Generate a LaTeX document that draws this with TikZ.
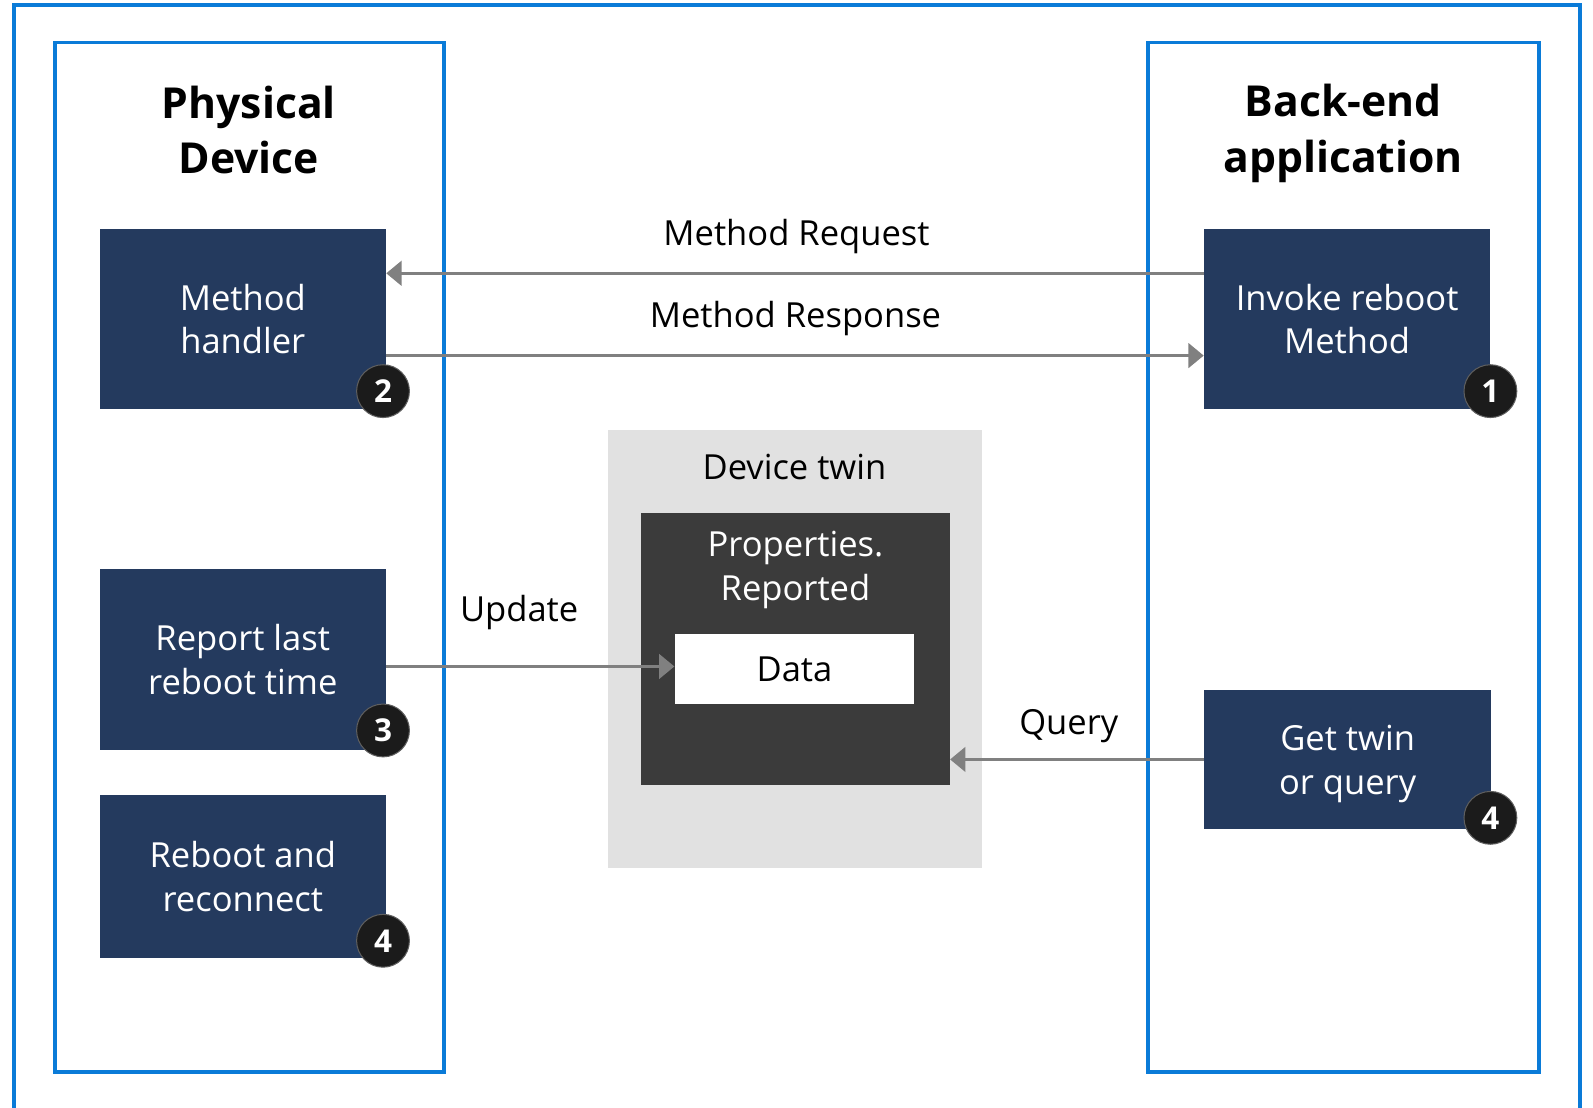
\documentclass[tikz,border=0pt]{standalone}
\usepackage{fontspec}
\setmainfont{Open Sans}
\usetikzlibrary{arrows.meta}

\definecolor{panelblue}{HTML}{0A7BD8}
\definecolor{stepnavy}{HTML}{243A5E}
\definecolor{arrowgray}{HTML}{808080}
\definecolor{twingray}{HTML}{E1E1E1}
\definecolor{propdark}{HTML}{3B3B3B}
\definecolor{badgeblack}{HTML}{1B1B1B}

\begin{document}
\begin{tikzpicture}[x=1pt,y=-1pt,
  panel/.style={draw=panelblue, line width=3.5pt, fill=white, inner sep=0pt},
  stepbox/.style={fill=stepnavy, text=white, inner sep=0pt, align=center,
    font=\fontsize{34}{43}\selectfont},
  title/.style={align=center, font=\fontsize{42}{55}\selectfont\bfseries},
  label/.style={font=\fontsize{34}{40}\selectfont, inner sep=0pt},
  badge/.style={circle, fill=badgeblack, draw=badgeblack!70, line width=1pt,
    minimum size=52pt, inner sep=0pt, text=white,
    font=\fontsize{31}{31}\selectfont\bfseries},
  flow/.style={draw=arrowgray, line width=3pt,
    -{Triangle[length=15pt, width=24pt]}}
]
\useasboundingbox (0,0) rectangle (1568,1090);
\begin{scope}
\clip (0,0) rectangle (1568,1090);
% outer frame, open at the bottom edge
\draw[draw=panelblue, line width=3.5pt] (14,1100) -- (14,5) -- (1555,5) -- (1555,1100);
\end{scope}

% the two side panels
\node[panel, minimum width=383pt, minimum height=1013pt] (devpanel) at (245.5,548.5) {};
\node[panel, minimum width=385pt, minimum height=1013pt] (apppanel) at (1322.5,548.5) {};

\node[title] (devtitle) at (245,128) {Physical\\Device};
\node[title] (apptitle) at (1322,131) {Back-end\\application};

% device-side steps
\node[stepbox, minimum width=282pt, minimum height=178pt] (handler) at (239,314) {Method\\handler};
\node[stepbox, minimum width=282pt, minimum height=178pt] (report) at (239,649) {Report last\\reboot time};
\node[stepbox, minimum width=282pt, minimum height=160pt] (reboot) at (239,863) {Reboot and\\reconnect};

% back-end steps
\node[stepbox, minimum width=282pt, minimum height=178pt] (invoke) at (1326,314) {Invoke reboot\\Method};
\node[stepbox, minimum width=283pt, minimum height=137pt] (getq) at (1326.5,747.5) {};
\node[align=center, text=white, font=\fontsize{34}{43}\selectfont, inner sep=0pt] (getqlbl) at (1326.5,752) {Get twin\\or query};

% device twin in the cloud
\node[fill=twingray, minimum width=369pt, minimum height=431pt, inner sep=0pt] (twin) at (782.5,638.5) {};
\node[label, anchor=center] (twinlbl) at (782,460) {Device twin};
\node[fill=propdark, minimum width=304pt, minimum height=268pt, inner sep=0pt] (props) at (783,639) {};
\node[align=center, text=white, font=\fontsize{34}{43}\selectfont, inner sep=0pt] (proplbl) at (783,561) {Properties.\\Reported};
\node[fill=white, minimum width=236pt, minimum height=69pt, inner sep=0pt,
  font=\fontsize{34}{40}\selectfont] (data) at (782,658.5) {Data};

% connectors
\draw[flow] ([yshift=45pt]invoke.west) -- ([yshift=45pt]handler.east);
\draw[flow] ([yshift=-36pt]handler.east) -- ([yshift=-36pt]invoke.west);
\coordinate (upd) at ([yshift=-7pt]report.east);
\draw[flow] (upd) -- (upd -| data.west);
\draw[flow] (getq.west) -- (getq.west -| props.east);

% connector labels
\node[label] (reqlbl) at (784,233) {Method Request};
\node[label] (resplbl) at (783,314) {Method Response};
\node[label] (updlbl) at (511,603) {Update};
\node[label] (qrylbl) at (1052,715) {Query};

% step numbers
\node[badge] (n1) at (1467,385) {1};
\node[badge] (n2) at (377,385) {2};
\node[badge] (n3) at (377,719) {3};
\node[badge] (n4a) at (377,926) {4};
\node[badge] (n4b) at (1467,805) {4};
\end{tikzpicture}
\end{document}
